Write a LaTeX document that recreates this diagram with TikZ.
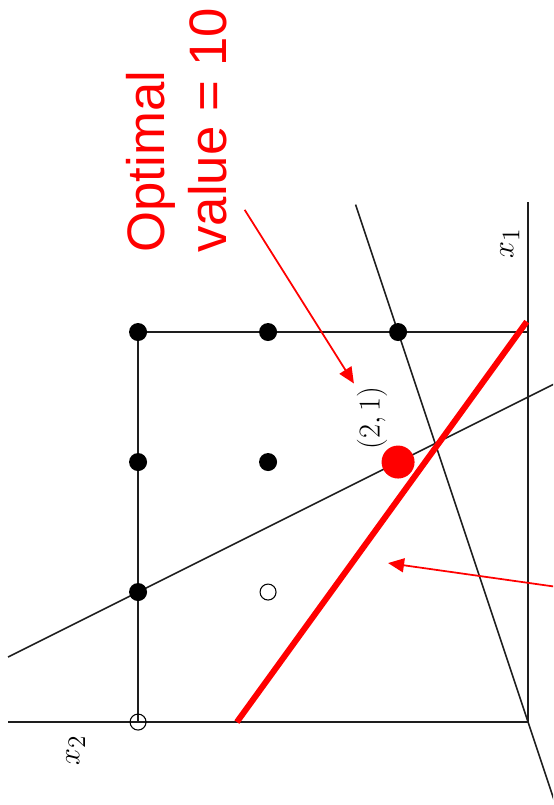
\documentclass[tikz,border=0pt]{standalone}
\usepackage{fontspec}
\newfontfamily\calloutfont{Liberation Sans}
\usetikzlibrary{arrows.meta, positioning}
\definecolor{optred}{RGB}{255,0,0}
\definecolor{linegray}{RGB}{30,30,30}

\begin{document}
\begin{tikzpicture}[
  rotate=90, transform shape,
  x=2.6cm, y=2.6cm,
  axis/.style={draw=linegray, line width=0.9pt},
  constraint/.style={draw=linegray, line width=0.9pt},
  objective/.style={draw=optred, line width=3.4pt},
  dot/.style={circle, fill=black, inner sep=0pt, minimum size=0.36cm},
  hole/.style={circle, draw=black, line width=0.6pt, inner sep=0pt, minimum size=0.32cm},
  optdot/.style={circle, fill=optred, inner sep=0pt, minimum size=0.66cm},
  arrow/.style={-{Triangle[length=0.32cm, width=0.28cm]}, line width=1pt, color=optred},
  callout/.style={font=\calloutfont\fontsize{30}{35}\selectfont, text=optred,
    align=left, inner sep=0pt},
  mathlabel/.style={font=\fontsize{19}{22}\selectfont, inner sep=1.5pt},
]
\useasboundingbox (-0.638,-0.192) rectangle (5.554,4.062);
\clip (-0.638,-0.192) rectangle (5.554,4.062);

% axes and box
\coordinate (O) at (0,0);
\coordinate (x1end) at (4,0);
\coordinate (x2end) at (0,4);
\draw[axis] (x1end) -- (O) -- (x2end);
\draw[axis] (3,0) -- (3,3) -- (0,3);

% constraints
\draw[constraint] (0.5,4) -- (2.75,-0.5);
\draw[constraint] (3.98,1.327) -- (-0.75,-0.25);

% objective level line
\draw[objective] (0,2.24) -- (3.08,0.01);

% integer points
\node[dot]    (p33) at (3,3) {};
\node[dot]    (p32) at (3,2) {};
\node[dot]    (p31) at (3,1) {};
\node[dot]    (p23) at (2,3) {};
\node[dot]    (p22) at (2,2) {};
\node[optdot] (p21) at (2,1) {};
\node[dot]    (p13) at (1,3) {};
\node[hole]   (p12) at (1,2) {};
\node[hole]   (p03) at (0,3) {};

\node[mathlabel] (lbl21) at (2.34,1.2) {$(2,1)$};
\node[mathlabel] (x1lbl) at (3.68,0.14) {$x_1$};
\node[mathlabel] (x2lbl) at (-0.22,3.48) {$x_2$};

\node[callout, anchor=north west] (optval) at (3.61,3.09) {Optimal\\value = 10};

\coordinate (optfrom)  at (3.94,2.18);
\coordinate (feasfrom) at (1.0,-0.5);
\coordinate (feasto)   at (1.223,1.077);
\draw[arrow] (optfrom)  -- (lbl21.north east);
\draw[arrow] (feasfrom) -- (feasto);

\end{tikzpicture}
\end{document}
